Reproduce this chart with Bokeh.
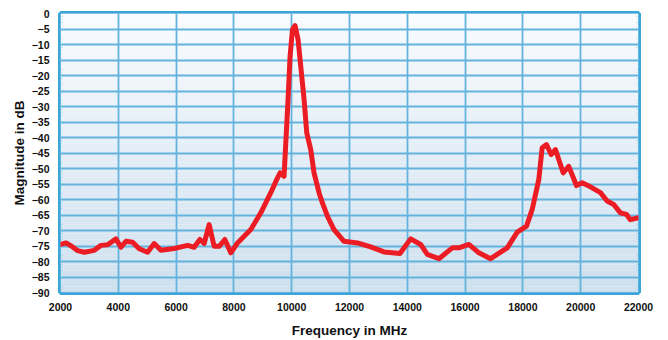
from bokeh.plotting import figure
from bokeh.models import Range1d, FixedTicker
from bokeh.embed import file_html
from bokeh.resources import INLINE

# Data
freq_mhz = [2000, 2190, 2422, 2595, 2823, 3168, 3400, 3631, 3918, 4091, 4264, 4496,
            4724, 5014, 5242, 5474, 5934, 6397, 6625, 6822, 6971, 7143, 7316, 7489,
            7686, 7893, 8125, 8585, 8931, 9276, 9484, 9598, 9736, 9874, 9944, 10026,
            10116, 10220, 10313, 10428, 10521, 10659, 10773, 10946, 11063, 11236,
            11464, 11810, 12273, 12733, 13193, 13746, 14116, 14461, 14692, 15094,
            15557, 15785, 16131, 16477, 16881, 17227, 17458, 17804, 18125, 18322,
            18551, 18667, 18816, 18978, 19127, 19393, 19587, 19853, 20050, 20337,
            20683, 20914, 21143, 21374, 21582, 21720, 22000]
magnitude_db = [-74.5, -74.0, -75.3, -76.5, -77.0, -76.4, -74.8, -74.6, -72.7, -75.4,
                -73.5, -73.8, -75.9, -77.0, -74.2, -76.4, -75.8, -74.8, -75.4, -72.9,
                -74.2, -68.1, -75.1, -75.1, -72.9, -77.2, -74.0, -69.7, -64.3, -57.8,
                -53.5, -51.4, -52.5, -27.7, -13.8, -5.2, -3.9, -8.4, -17.0, -27.7,
                -38.5, -43.9, -51.4, -57.8, -61.1, -65.4, -69.7, -73.5, -74.0, -75.3,
                -76.9, -77.4, -72.7, -74.5, -77.7, -79.1, -75.6, -75.6, -74.5, -77.2,
                -79.1, -77.0, -75.6, -70.5, -68.6, -63.2, -53.5, -43.3, -42.3, -45.5,
                -43.9, -51.4, -49.3, -55.5, -54.6, -55.9, -57.8, -60.5, -61.6, -64.3,
                -64.8, -66.5, -65.9]
x_ticks = list(range(2000, 22001, 2000))
y_ticks = list(range(-90, 1, 5))

X_MIN, X_MAX = 2000, 22000
Y_MIN, Y_MAX = -90, 0

p = figure(width=668, height=340, output_backend="svg", toolbar_location=None,
           x_range=Range1d(X_MIN, X_MAX), y_range=Range1d(Y_MIN, Y_MAX),
           min_border_left=60, min_border_right=30, min_border_top=13,
           min_border_bottom=47)

# gradient background (white at top -> light blue at bottom)
top_rgb = (249, 251, 254)
bot_rgb = (206, 224, 238)
n = 90
step = (Y_MAX - Y_MIN) / n
bottoms, tops, colors = [], [], []
for i in range(n):
    t = (i + 0.5) / n
    r = round(bot_rgb[0] + (top_rgb[0] - bot_rgb[0]) * t)
    g = round(bot_rgb[1] + (top_rgb[1] - bot_rgb[1]) * t)
    b = round(bot_rgb[2] + (top_rgb[2] - bot_rgb[2]) * t)
    bottoms.append(Y_MIN + i * step)
    tops.append(Y_MIN + (i + 1) * step + step * 0.05)
    colors.append("#%02x%02x%02x" % (r, g, b))
p.quad(left=X_MIN, right=X_MAX, bottom=bottoms, top=tops, fill_color=colors,
       line_color=None, level="image")

p.line(freq_mhz, magnitude_db, line_color="#ec1c24", line_width=5,
       line_join="round", line_cap="round")

p.outline_line_color = "#3aa5d8"
p.outline_line_width = 5
p.outline_line_alpha = 1.0

for g in (p.xgrid, p.ygrid):
    g.grid_line_color = "#64b3de"
    g.grid_line_width = 1.8
p.xgrid.ticker = FixedTicker(ticks=x_ticks)
p.ygrid.ticker = FixedTicker(ticks=y_ticks)

p.xaxis.ticker = FixedTicker(ticks=x_ticks)
p.yaxis.ticker = FixedTicker(ticks=y_ticks)

for ax in (p.xaxis[0], p.yaxis[0]):
    ax.axis_line_color = None
    ax.major_tick_line_color = None
    ax.minor_tick_line_color = None
    ax.major_tick_out = 0
    ax.major_tick_in = 0
    ax.major_label_text_font = "Liberation Sans"
    ax.major_label_text_font_style = "bold"
    ax.major_label_text_font_size = "10.5px"
    ax.major_label_text_color = "#111111"
    ax.axis_label_text_font = "Liberation Sans"
    ax.axis_label_text_font_style = "bold"
    ax.axis_label_text_color = "#111111"
    ax.axis_label_text_font_size = "13.5px"

p.xaxis.axis_label = "Frequency in MHz"
p.yaxis.axis_label = "Magnitude in dB"
p.xaxis.major_label_standoff = 10
p.xaxis.axis_label_standoff = 9
p.yaxis.major_label_standoff = 11
p.yaxis.axis_label_standoff = 2

p.background_fill_color = None
p.border_fill_color = "white"

open("out.html", "w").write(file_html(p, INLINE))
